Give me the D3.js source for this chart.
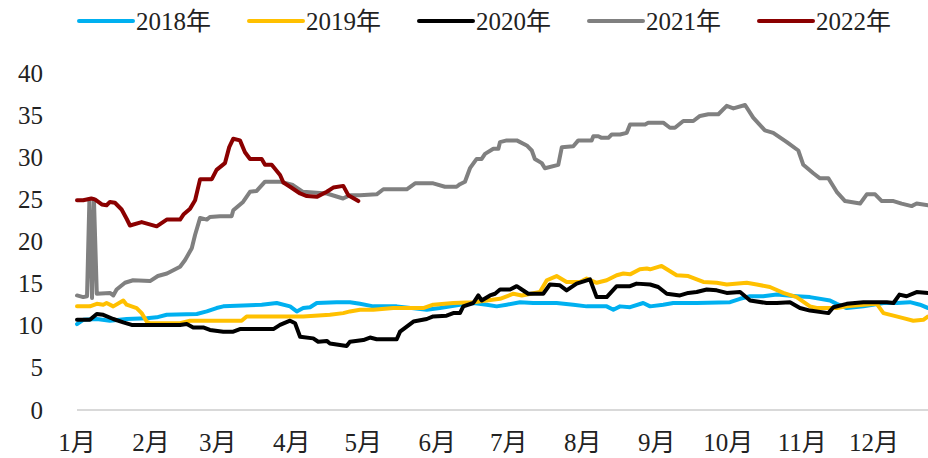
<!DOCTYPE html>
<html>
<head>
<meta charset="utf-8">
<script src="https://cdn.jsdelivr.net/npm/d3@7"></script>
<style>
  html, body { margin: 0; padding: 0; background: #fff; }
  svg { display: block; }
  text { font-family: "Liberation Serif", "Noto Sans CJK SC", serif; fill: #222; }
</style>
</head>
<body>
<svg id="chart" width="928" height="458"></svg>
<script>
// ---- data: [day of year, value] ----
const seriesNames = ["2018年", "2019年", "2020年", "2021年", "2022年"];
const seriesColors = ["#00B0F0", "#FFC000", "#000000", "#808080", "#8B0000"];

const data2018 = [[0,10.2],[2.6,10.7],[8.3,10.8],[13.8,10.6],[20.8,10.8],[29.2,10.9],[33.4,11.0],[37.6,11.3],[50.2,11.4],[54.4,11.7],[58.5,12.1],[61.3,12.3],[69.7,12.4],[77.4,12.5],[83.7,12.7],[89.3,12.3],[92.1,11.7],[94.8,12.1],[97.7,12.2],[100.5,12.7],[108.8,12.8],[114.4,12.8],[118.6,12.6],[124.2,12.3],[134,12.3],[146.6,11.9],[152.1,12.1],[160.5,12.5],[166.1,12.7],[171.7,12.5],[175.9,12.3],[180.1,12.5],[185.7,12.8],[191.2,12.7],[196.9,12.7],[201,12.7],[208,12.5],[213.6,12.3],[222,12.3],[224.8,11.9],[227.6,12.3],[231.8,12.2],[237.3,12.7],[240.2,12.3],[245.7,12.5],[249.9,12.7],[259.7,12.7],[273.7,12.8],[277.9,13.2],[282.1,13.5],[287.6,13.5],[293.3,13.7],[301.6,13.5],[307.2,13.4],[315.6,13.0],[318.4,12.6],[322.6,12.1],[329.6,12.3],[338,12.7],[343.6,12.7],[349.1,12.8],[353.3,12.5],[356.7,12.1]];

const data2019 = [[0,12.3],[5.4,12.3],[8.3,12.6],[11,12.5],[12.4,12.7],[15.2,12.3],[19.4,13.0],[20.8,12.5],[25,12.1],[27.1,11.5],[29.2,10.5],[30.6,10.3],[43.2,10.3],[47.4,10.6],[69,10.6],[71.1,11.1],[80.9,11.1],[94.8,11.1],[106,11.3],[111.6,11.5],[114.4,11.7],[118.6,11.9],[124.2,11.9],[132.6,12.1],[145.1,12.1],[149.3,12.5],[157.7,12.7],[166.1,12.8],[171.7,13.0],[177.3,13.2],[182.9,13.8],[186.4,13.6],[194,14.0],[196.9,15.4],[201,15.9],[205.2,15.2],[210.8,15.2],[213.6,15.6],[217.8,15.1],[222,15.4],[226.2,16.0],[229,16.2],[231.8,16.1],[235.9,16.7],[238.8,16.8],[240.2,16.7],[245,17.1],[251.3,16.0],[256.2,15.9],[262.5,15.2],[268.1,15.1],[272.3,14.9],[280.7,15.1],[284.9,14.9],[290.4,14.6],[296,13.9],[301.6,13.4],[307.2,12.3],[310,12.1],[318.4,12.1],[322.6,12.3],[329.6,12.5],[335.2,12.6],[338,11.5],[342.2,11.2],[346.3,10.9],[350.5,10.6],[354.7,10.7],[356.7,11.1]];

const data2020 = [[0,10.7],[5.4,10.7],[8.3,11.4],[11,11.3],[15.2,10.8],[19.4,10.4],[22.9,10.1],[43.2,10.1],[46,10.2],[48.7,9.8],[52.9,9.8],[55.7,9.5],[61.3,9.3],[65.5,9.3],[68.3,9.6],[82.3,9.6],[85.1,10.1],[89.3,10.6],[91.4,10.3],[93.5,8.7],[99,8.5],[101.1,8.1],[104.7,8.2],[106,7.9],[113,7.6],[114.4,8.1],[120,8.3],[122.8,8.6],[125.6,8.4],[134,8.4],[135.4,9.3],[138.2,9.9],[141,10.5],[146.6,10.8],[149.3,11.1],[154.9,11.2],[157.7,11.5],[160.5,11.5],[161.9,12.3],[166.1,12.7],[168.2,13.6],[169.6,13.0],[173.1,13.6],[175.2,13.8],[177.3,14.3],[181.5,14.3],[184.3,14.7],[186.4,14.3],[189.1,13.8],[195.4,13.8],[198.2,14.9],[202.4,14.8],[205.2,14.2],[209.4,15.0],[215,15.5],[217.8,13.4],[222,13.4],[226.2,14.7],[231.8,14.7],[234.5,15.0],[240.2,14.9],[243.6,14.6],[247.2,13.8],[252.7,13.6],[256.2,13.9],[259.7,14.0],[263.9,14.3],[268.1,14.2],[272.3,13.9],[277.9,14.0],[282.1,13.0],[289,12.7],[293.3,12.7],[298.8,12.8],[303,12.1],[307.2,11.8],[314.9,11.5],[317,12.2],[322.6,12.6],[329.6,12.8],[339.4,12.8],[342.2,12.7],[344.7,13.7],[347.7,13.5],[351.9,14.0],[356.7,13.9]];

const data2021 = [[0,13.6],[2.6,13.4],[4.2,13.5],[5.2,25],[6.3,13.3],[7.1,25],[8.3,13.8],[13.8,13.9],[15.2,13.6],[16.6,14.3],[20.1,15.1],[23.5,15.4],[30.6,15.3],[33.9,15.9],[37.7,16.2],[43.2,17.0],[45.3,17.8],[48.1,19.2],[49.5,20.8],[51.6,22.8],[54.4,22.6],[55.7,22.9],[59.9,23.0],[64.8,23.0],[65.5,23.7],[69.6,24.7],[72.5,25.9],[75.3,26.0],[78.8,27.1],[85.1,27.1],[90.5,26.7],[94.7,25.9],[104.7,25.7],[111.5,25.1],[114.4,25.5],[118.6,25.5],[125.6,25.6],[128.4,26.2],[138.2,26.2],[141.7,26.9],[149.3,26.9],[154.2,26.5],[159.1,26.5],[160.5,26.8],[162.6,27.1],[164.7,28.7],[167.5,29.8],[169.6,29.8],[171,30.4],[174.5,31.0],[176.6,31.0],[177.3,31.8],[180.1,32.0],[184.3,32.0],[188.5,31.4],[190.6,30.8],[191.9,29.8],[194.8,29.3],[196.1,28.7],[201.7,29.1],[203.2,31.2],[208,31.3],[210.1,32.0],[215.7,32.0],[216.4,32.5],[218.5,32.5],[219.9,32.3],[222.7,32.3],[224.1,32.7],[227.6,32.7],[230.4,32.9],[231.8,33.9],[238.1,33.9],[239.4,34.1],[245.7,34.1],[248.5,33.5],[250.6,33.5],[254.1,34.3],[258.3,34.3],[261.1,34.9],[264.6,35.1],[268.8,35.1],[272.3,36.1],[275.1,35.8],[280,36.2],[283.4,34.7],[288.3,33.2],[291.8,32.9],[297.5,31.8],[302.3,30.8],[304.4,29.1],[308.6,28.1],[311.4,27.5],[314.9,27.5],[318.4,25.9],[321.9,24.8],[328.2,24.5],[331,25.6],[334.5,25.6],[337.3,24.8],[342.2,24.8],[345.6,24.5],[349.8,24.2],[351.9,24.5],[356.7,24.3]];

const data2022 = [[0,24.9],[2.6,24.9],[6,25.1],[7.5,25.0],[10.4,24.4],[12.4,24.3],[13.8,24.7],[15.9,24.6],[18.7,23.8],[20.8,22.7],[22.2,21.9],[27.1,22.3],[33.4,21.8],[37.6,22.6],[43.2,22.6],[44.6,23.2],[47.4,23.9],[49.5,24.9],[51.6,27.4],[56.5,27.4],[58.5,28.5],[62,29.3],[63.8,31.2],[65.5,32.2],[68.3,32.0],[70.4,30.6],[72.5,29.8],[77.4,29.8],[78.8,29.1],[81.6,29.1],[85.1,27.9],[86.5,27.0],[89.3,26.5],[93.5,25.7],[96.3,25.4],[100.5,25.3],[104.7,25.9],[107.4,26.4],[111.6,26.6],[113.7,25.5],[117.9,24.8]];

const monthStarts = [0, 31, 59, 90, 120, 151, 181, 212, 243, 273, 304, 334];
const monthLabels = ["1月","2月","3月","4月","5月","6月","7月","8月","9月","10月","11月","12月"];
const yTicks = [0, 5, 10, 15, 20, 25, 30, 35, 40];

// ---- drawing ----
const allSeries = [data2018, data2019, data2020, data2021, data2022];
const svg = d3.select("#chart");
const W = 928, H = 458;
const plotLeft = 77, plotRight = 928, plotTop = 60, plotBottom = 410;

const x = d3.scaleLinear().domain([0, 365]).range([plotLeft, plotLeft + 365 * 2.386]);
const y = d3.scaleLinear().domain([0, 40]).range([plotBottom, 73]);

svg.append("defs").append("clipPath").attr("id", "clip")
  .append("rect").attr("x", plotLeft - 4).attr("y", 0)
  .attr("width", plotRight - plotLeft + 4).attr("height", H);

// y axis labels
svg.append("g").selectAll("text").data(yTicks).join("text")
  .attr("x", 43).attr("y", d => y(d))
  .attr("text-anchor", "end").attr("dominant-baseline", "central")
  .style("font-size", "25px").text(d => d);

// x axis line
svg.append("line")
  .attr("x1", plotLeft).attr("x2", plotRight)
  .attr("y1", plotBottom).attr("y2", plotBottom)
  .attr("stroke", "#d9d9d9").attr("stroke-width", 2);

// x labels
svg.append("g").selectAll("text").data(monthStarts).join("text")
  .attr("x", d => x(d)).attr("y", 442)
  .attr("text-anchor", "middle").attr("dominant-baseline", "central")
  .style("font-size", "25px").text((d, i) => monthLabels[i]);

// lines
const line = d3.line().x(d => x(d[0])).y(d => y(d[1]));
svg.append("g").attr("clip-path", "url(#clip)")
  .selectAll("path").data(allSeries).join("path")
  .attr("d", line)
  .attr("fill", "none")
  .attr("stroke", (d, i) => seriesColors[i])
  .attr("stroke-width", 4)
  .attr("stroke-linejoin", "round")
  .attr("stroke-linecap", "round");

// legend
const legend = svg.append("g").selectAll("g").data(seriesNames).join("g")
  .attr("transform", (d, i) => `translate(${79 + i * 170}, 21)`);
legend.append("line").attr("x1", 0).attr("x2", 54).attr("y1", 0).attr("y2", 0)
  .attr("stroke", (d, i) => seriesColors[i]).attr("stroke-width", 4).attr("stroke-linecap", "round");
legend.append("text").attr("x", 57).attr("y", 0)
  .attr("dominant-baseline", "central").style("font-size", "25px").text(d => d);
</script>
</body>
</html>
